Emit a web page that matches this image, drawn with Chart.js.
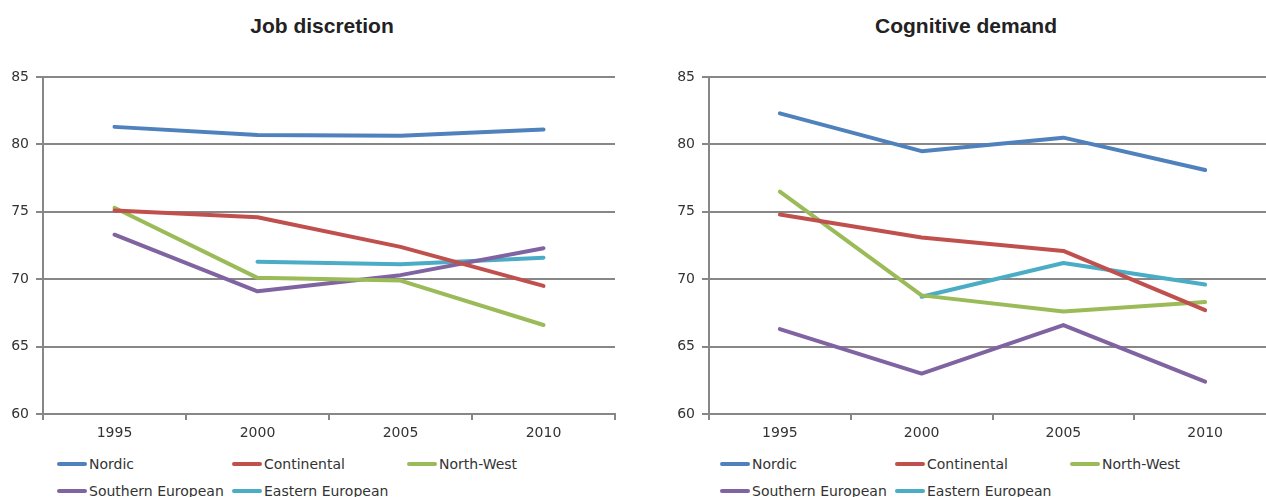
<!DOCTYPE html>
<html>
<head>
<meta charset="utf-8">
<script src="https://cdn.jsdelivr.net/npm/chart.js@4.4.1/dist/chart.umd.min.js"></script>
<style>
	html, body { margin: 0; padding: 0; background: #fff; overflow: hidden; }
	body { width: 1266px; height: 497px; position: relative; }
	.box { position: absolute; top: 0; height: 440px; }
	.title { position: absolute; top: 13px; font: bold 21px "Liberation Sans", Arial, sans-serif; color: #222; text-align: center; line-height: 26px; }
	.legend { position: absolute; top: 453px; display: grid; row-gap: 5px; font: 14px "DejaVu Sans", sans-serif; color: #333; }
	.item { display: flex; align-items: center; height: 22px; white-space: nowrap; }
	.swatch { width: 30px; height: 4px; border-radius: 2px; margin-right: 2px; flex: none; }
</style>
</head>
<body>
<div class="title" style="left:0;width:644px">Job discretion</div>
<div class="title" style="left:666px;width:600px">Cognitive demand</div>
<div class="box" style="left:0;width:630px"><canvas id="jobChart"></canvas></div>
<div class="box" style="left:666px;width:610px"><canvas id="cogChart"></canvas></div>
<div class="legend" id="jobLegend" style="left:57px;grid-template-columns:175px 175px 175px"></div>
<div class="legend" id="cogLegend" style="left:720px;grid-template-columns:175px 175px 175px"></div>
<script>
const years = ["1995", "2000", "2005", "2010"];
const groups = ["Nordic", "Continental", "North-West", "Southern European", "Eastern European"];
const colors = ["#4f81bd", "#c0504d", "#9bbb59", "#8064a2", "#4bacc6"];

// Job discretion index
const jobNordic = [81.3, 80.7, 80.65, 81.1];
const jobContinental = [75.1, 74.6, 72.4, 69.5];
const jobNorthWest = [75.3, 70.1, 69.9, 66.6];
const jobSouthern = [73.3, 69.1, 70.3, 72.3];
const jobEastern = [null, 71.3, 71.1, 71.6];

// Cognitive demand index
const cogNordic = [82.3, 79.5, 80.5, 78.1];
const cogContinental = [74.8, 73.1, 72.1, 67.7];
const cogNorthWest = [76.5, 68.8, 67.6, 68.3];
const cogSouthern = [66.3, 63.0, 66.6, 62.4];
const cogEastern = [null, 68.7, 71.2, 69.6];

const yTicks = { min: 60, max: 85, step: 5 };
const gridColor = "#878787";

function makeChart(id, series, rightPad) {
	new Chart(id, {
		type: "line",
		data: {
			labels: years,
			datasets: series.map((values, i) => ({
				label: groups[i],
				data: values,
				borderColor: colors[i],
				backgroundColor: colors[i],
				borderWidth: 4,
				pointRadius: 0,
				tension: 0,
				borderCapStyle: "round",
				borderJoinStyle: "round"
			}))
		},
		options: {
			responsive: true,
			maintainAspectRatio: false,
			animation: false,
			layout: { padding: { top: 77, right: rightPad, bottom: 0, left: 0 } },
			plugins: { legend: { display: false }, tooltip: { enabled: false } },
			scales: {
				x: {
					offset: true,
					afterFit: s => { s.height = 26; },
					grid: { offset: true, drawOnChartArea: false, color: gridColor, lineWidth: 2, tickLength: 6 },
					border: { color: gridColor, width: 2 },
					ticks: { color: "#333", padding: 5, font: { family: "DejaVu Sans", size: 14 } }
				},
				y: {
					min: yTicks.min,
					max: yTicks.max,
					afterFit: s => { s.width = 43; },
					grid: { color: gridColor, lineWidth: 2, tickLength: 7 },
					border: { color: gridColor, width: 2 },
					ticks: { stepSize: yTicks.step, color: "#333", padding: 7, font: { family: "DejaVu Sans", size: 14 } }
				}
			}
		}
	});
}

function makeLegend(id) {
	const el = document.getElementById(id);
	groups.forEach((name, i) => {
		const item = document.createElement("div");
		item.className = "item";
		const sw = document.createElement("span");
		sw.className = "swatch";
		sw.style.background = colors[i];
		item.appendChild(sw);
		item.appendChild(document.createTextNode(name));
		el.appendChild(item);
	});
}

makeChart("jobChart", [jobNordic, jobContinental, jobNorthWest, jobSouthern, jobEastern], 15);
makeChart("cogChart", [cogNordic, cogContinental, cogNorthWest, cogSouthern, cogEastern], 0);
makeLegend("jobLegend");
makeLegend("cogLegend");
</script>
</body>
</html>
